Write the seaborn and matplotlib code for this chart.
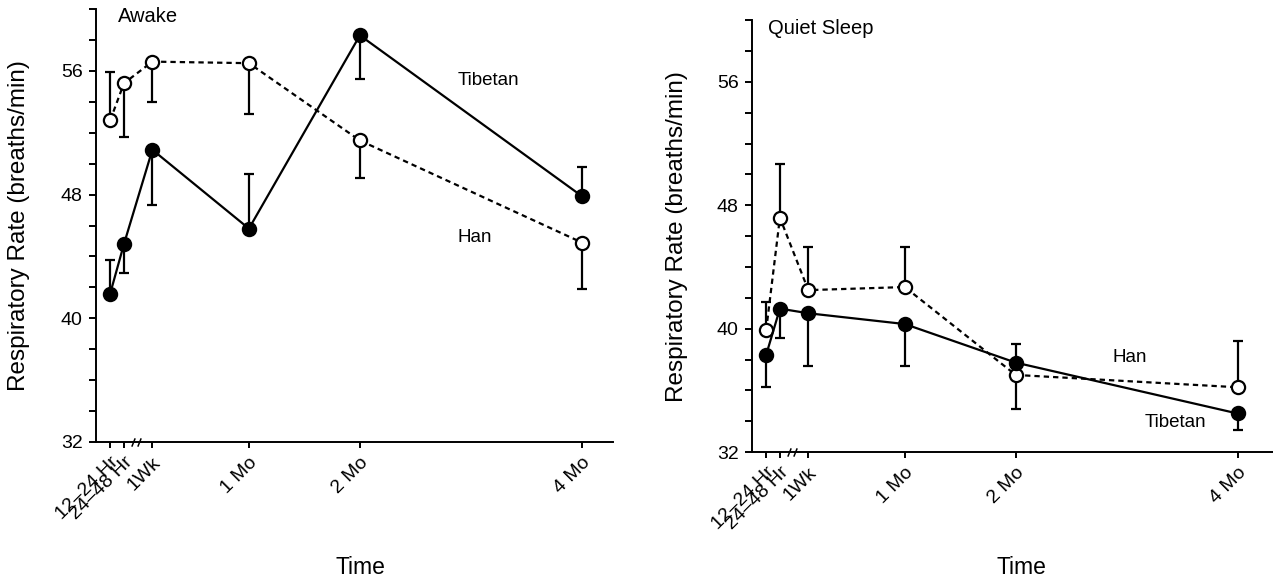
import numpy as np
import matplotlib
matplotlib.use("Agg")
import matplotlib.pyplot as plt
from matplotlib.ticker import MultipleLocator, FixedLocator
import seaborn as sns

# time points (broken axis: positions in months, first three squeezed in before 1 Mo)
time_labels = ["12\u201324 Hr", "24\u201348 Hr", "1Wk", "1 Mo", "2 Mo", "4 Mo"]
time_pos = [-0.25, -0.126, 0.13, 1, 2, 4]
break_pos = -0.015

# Awake panel: mean and tip of the (one-sided) error bar
awake_han = [52.8, 55.2, 56.6, 56.5, 51.5, 44.9]
awake_han_bar = [55.9, 51.7, 54.0, 53.2, 49.1, 41.9]
awake_tib = [41.6, 44.8, 50.9, 45.8, 58.3, 47.9]
awake_tib_bar = [43.8, 42.9, 47.3, 49.3, 55.5, 49.8]

# Quiet sleep panel
sleep_han = [39.9, 47.2, 42.5, 42.7, 37.0, 36.2]
sleep_han_bar = [41.7, 50.7, 45.3, 45.3, 34.8, 39.2]
sleep_tib = [38.3, 41.3, 41.0, 40.3, 37.8, 34.5]
sleep_tib_bar = [36.2, 39.4, 37.6, 37.6, 39.0, 33.4]


def draw_panel(ax, title, title_x, han, han_bar, tib, tib_bar, labels, xmax):
    for vals, bar in ((han, han_bar), (tib, tib_bar)):
        ax.vlines(time_pos, vals, bar, color="black", lw=1.6, zorder=2)
        ax.plot(time_pos, bar, ls="none", marker="_", ms=6.5, mew=1.6,
                color="black", zorder=2)

    sns.lineplot(x=time_pos, y=han, ax=ax, color="black", lw=1.6,
                 linestyle=(0, (2.4, 1.8)), marker="o", ms=9.5,
                 markerfacecolor="white", markeredgecolor="black",
                 markeredgewidth=1.6, zorder=3)
    sns.lineplot(x=time_pos, y=tib, ax=ax, color="black", lw=1.6,
                 marker="o", ms=9.5, markerfacecolor="black",
                 markeredgecolor="black", markeredgewidth=1.6, zorder=4)

    ax.set_xlim(-0.378, xmax)
    ax.set_ylim(32, 60)
    ax.yaxis.set_major_locator(FixedLocator([32, 40, 48, 56]))
    ax.yaxis.set_minor_locator(MultipleLocator(2))
    ax.set_xticks(time_pos)
    ax.set_xticklabels(time_labels, rotation=45, ha="right",
                       rotation_mode="anchor", fontsize=14)
    ax.tick_params(axis="y", which="both", length=5, width=1.4,
                   labelsize=14, pad=4.5)
    ax.tick_params(axis="x", length=4.5, width=1.4, pad=4)
    for s in ("left", "bottom"):
        ax.spines[s].set_linewidth(1.4)
    sns.despine(ax=ax)

    # axis break marks
    for dx in (-0.027, 0.027):
        ax.plot([break_pos + dx], [0], transform=ax.get_xaxis_transform(),
                marker=[(-1, -2.5), (1, 2.5)], ms=6, mew=1.1,
                color="black", clip_on=False, zorder=5)

    ax.set_ylabel("Respiratory Rate (breaths/min)", fontsize=17.5)
    ax.set_xlabel("Time", fontsize=16.5)
    ax.text(title_x, 59.5, title, fontsize=14.5, va="center")
    for txt, x, y in labels:
        ax.text(x, y, txt, fontsize=13.5, va="center")


sns.set_style("ticks")
plt.rcParams["font.family"] = ["Liberation Sans", "DejaVu Sans"]
for key in ("text.color", "axes.labelcolor", "xtick.color", "ytick.color",
            "axes.edgecolor"):
    plt.rcParams[key] = "black"

fig = plt.figure(figsize=(12.73, 5.77), dpi=100)
ax1 = fig.add_axes([0.0754, 0.2340, 0.4061, 0.7503])
ax2 = fig.add_axes([0.5907, 0.2166, 0.4093, 0.7482])

draw_panel(ax1, "Awake", -0.184, awake_han, awake_han_bar, awake_tib, awake_tib_bar,
           [("Tibetan", 2.88, 55.4), ("Han", 2.88, 45.2)], 4.28)
draw_panel(ax2, "Quiet Sleep", -0.234, sleep_han, sleep_han_bar, sleep_tib, sleep_tib_bar,
           [("Han", 2.87, 38.1), ("Tibetan", 3.16, 33.9)], 4.32)

ax1.yaxis.set_label_coords(-0.128, 0.5)
ax2.yaxis.set_label_coords(-0.123, 0.5)
ax1.xaxis.set_label_coords(0.511, -0.263)
ax2.xaxis.set_label_coords(0.518, -0.241)

fig.savefig("out.png", dpi=100)
